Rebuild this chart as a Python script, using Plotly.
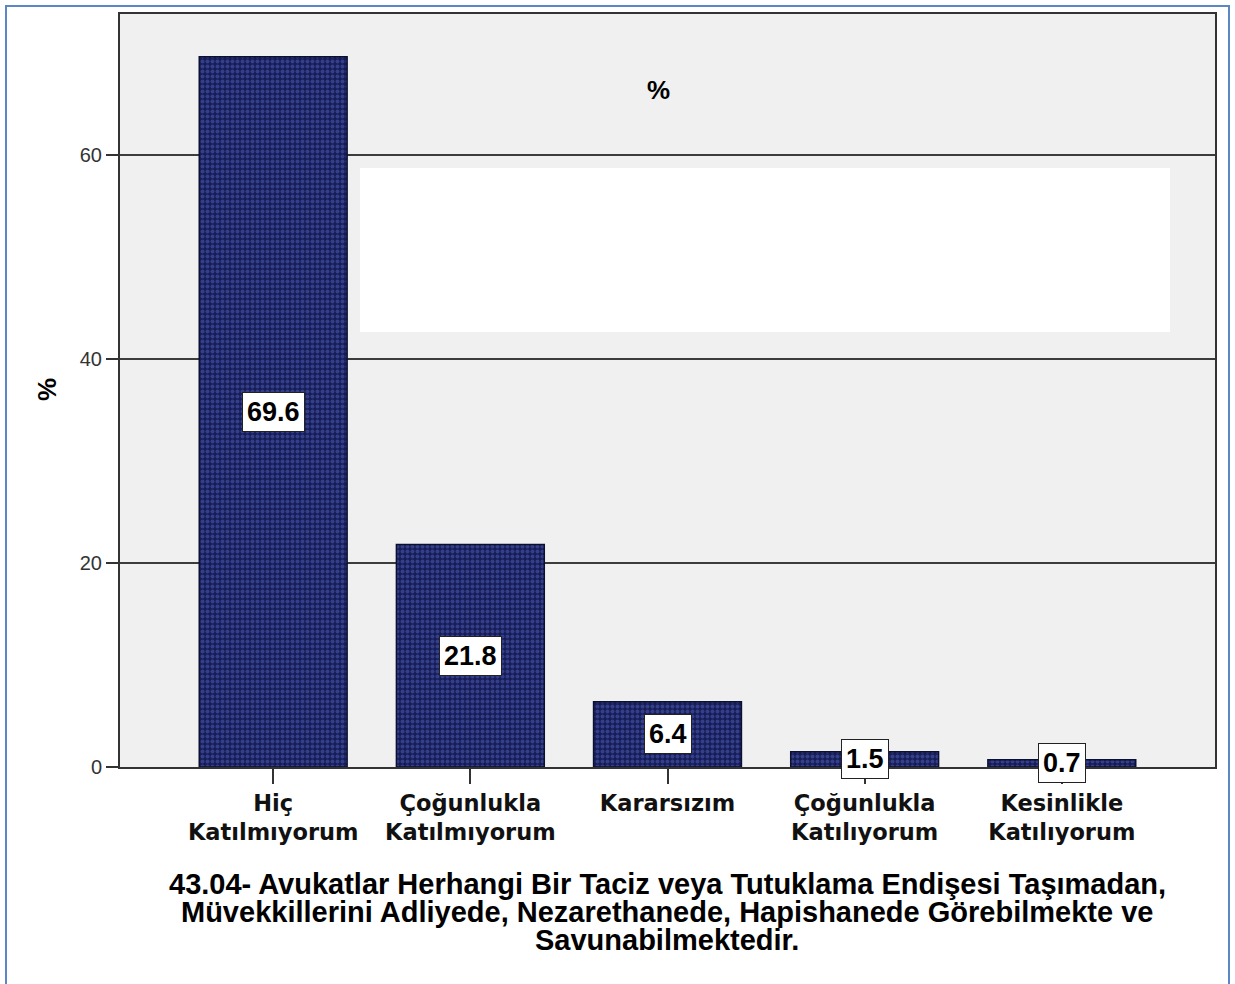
import plotly.graph_objects as go

categories = ["Hiç Katılmıyorum", "Çoğunlukla Katılmıyorum", "Kararsızım",
              "Çoğunlukla Katılıyorum", "Kesinlikle Katılıyorum"]
tick_labels = ["Hiç<br>Katılmıyorum", "Çoğunlukla<br>Katılmıyorum", "Kararsızım",
               "Çoğunlukla<br>Katılıyorum", "Kesinlikle<br>Katılıyorum"]
percent = [69.6, 21.8, 6.4, 1.5, 0.7]
y_ticks = [0, 20, 40, 60]
title_lines = [
    "43.04- Avukatlar Herhangi Bir Taciz veya Tutuklama Endişesi Taşımadan,",
    "Müvekkillerini Adliyede, Nezarethanede, Hapishanede Görebilmekte ve",
    "Savunabilmektedir.",
]

W, H = 1235, 984
L, R, T, B = 120, 20, 14, 217
pw, ph = W - L - R, H - T - B


def px_x(p):
    return (p - L) / pw


def px_y(p):
    return (H - B - p) / ph


ARIAL = "Liberation Sans, Arial"

fig = go.Figure()
fig.add_trace(go.Bar(
    x=categories, y=percent, width=0.75,
    marker=dict(color="#161c55", line=dict(color="#0c1030", width=1.5),
                pattern=dict(shape=".", fgcolor="#5262c0", bgcolor="#161c55",
                             size=5, solidity=0.5)),
    hoverinfo="x+y",
))

annotations = []
for c, v in zip(categories, percent):
    annotations.append(dict(
        x=c, y=v / 2, xref="x", yref="y", text=f"{v}", showarrow=False,
        xanchor="center", yanchor="middle",
        font=dict(family=ARIAL, size=27, color="black", weight="bold"),
        bgcolor="white", bordercolor="#222", borderwidth=1, borderpad=4,
    ))

annotations.append(dict(x=px_x(658), y=px_y(90), xref="paper", yref="paper", text="%",
                        showarrow=False, xanchor="center", yanchor="middle",
                        font=dict(family=ARIAL, size=26, color="black", weight="bold")))
annotations.append(dict(x=px_x(47), y=px_y(390), xref="paper", yref="paper", text="%",
                        textangle=-90, showarrow=False, xanchor="center", yanchor="middle",
                        font=dict(family=ARIAL, size=26, color="black", weight="bold")))
for i, line in enumerate(title_lines):
    annotations.append(dict(
        x=px_x(667), y=px_y(884 + 28 * i), xref="paper", yref="paper",
        xanchor="center", yanchor="middle",
        text=line, showarrow=False,
        font=dict(family=ARIAL, size=29, color="black", weight="bold")))

shapes = [
    dict(type="rect", xref="paper", yref="paper", x0=px_x(360), x1=px_x(1170),
         y0=px_y(332), y1=px_y(168), fillcolor="white", line=dict(width=0), layer="between"),
    dict(type="rect", xref="paper", yref="paper", x0=px_x(6), x1=px_x(1229),
         y0=px_y(995), y1=px_y(6), fillcolor="rgba(0,0,0,0)",
         line=dict(color="#5b87c7", width=2), layer="above"),
]

fig.update_layout(
    width=W, height=H,
    margin=dict(l=L, r=R, t=T, b=B),
    paper_bgcolor="white", plot_bgcolor="#f0f0f0",
    showlegend=False,
    annotations=annotations, shapes=shapes,
    xaxis=dict(
        range=[-0.777, 4.777], tickmode="array", tickvals=categories, ticktext=tick_labels,
        ticks="outside", ticklen=15, tickwidth=2, tickcolor="#333",
        showline=True, linecolor="#333", linewidth=2, mirror=True, showgrid=False,
        tickfont=dict(family="DejaVu Sans, Verdana", size=22.5, color="#111", weight="bold"),
    ),
    yaxis=dict(
        range=[0, 73.8], tickmode="array", tickvals=y_ticks,
        ticks="outside", ticklen=12, tickwidth=2, tickcolor="#333",
        showline=True, linecolor="#333", linewidth=2, mirror=True,
        showgrid=True, gridcolor="#3c3c3c", gridwidth=2, zeroline=False,
        tickfont=dict(family=ARIAL, size=20, color="#333"),
    ),
)

fig.write_html("out.html", config={"displayModeBar": False},
               post_script="document.body.style.margin='0';document.body.style.overflow='hidden';")
